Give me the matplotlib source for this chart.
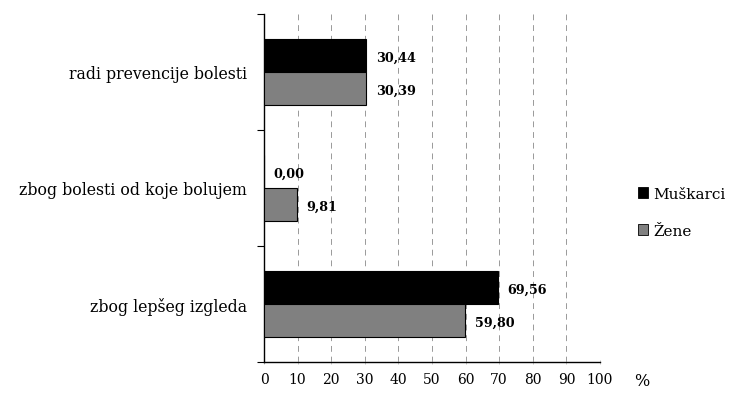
import matplotlib.pyplot as plt
import numpy as np
from matplotlib.patches import Patch

# data
categories = ["radi prevencije bolesti", "zbog bolesti od koje bolujem", "zbog lepšeg izgleda"]
muskarci = [30.44, 0.00, 69.56]
zene = [30.39, 9.81, 59.80]
series_names = ["Muškarci", "Žene"]
xticks = list(range(0, 101, 10))

plt.rcParams['font.family'] = ['DejaVu Serif']

fig = plt.figure(figsize=(7.34, 4.02), dpi=100)
ax = fig.add_axes([0.3597, 0.097, 0.8174 - 0.3597, 0.963 - 0.097])

y = np.arange(len(categories))
h = 0.285
ax.barh(y - h / 2, muskarci, height=h, color='black', edgecolor='black', lw=0.8, zorder=3)
ax.barh(y + h / 2, zene, height=h, color='#808080', edgecolor='black', lw=0.8, zorder=3)

def fmt(v):
    return f"{v:.2f}".replace('.', ',')

for yi, v in zip(y - h / 2, muskarci):
    ax.annotate(fmt(v), (v, yi), xytext=(7, -1.5), textcoords='offset points',
                ha='left', va='center', fontsize=9.2, fontweight='bold')
for yi, v in zip(y + h / 2, zene):
    ax.annotate(fmt(v), (v, yi), xytext=(7, -1.5), textcoords='offset points',
                ha='left', va='center', fontsize=9.2, fontweight='bold')

ax.set_ylim(len(categories) - 0.5, -0.5)
ax.set_xlim(0, 100)

# category boundaries as ticks, labels at centers
ax.set_yticks(np.arange(-0.5, len(categories), 1.0))
ax.set_yticklabels([])
ax.set_yticks(y, minor=True)
ax.set_yticklabels(categories, minor=True, fontsize=11.3)
ax.tick_params(axis='y', which='major', length=5, width=0.8, direction='out')
ax.tick_params(axis='y', which='minor', length=0, pad=12)

ax.set_xticks(xticks)
ax.set_xticklabels([str(t) for t in xticks], fontsize=10)
ax.tick_params(axis='x', length=3, width=0.6, direction='inout', pad=6, color='#bbbbbb')

ax.grid(axis='x', linestyle=(0, (6, 5)), color='#999999', lw=0.7, zorder=0)
for s in ['top', 'right']:
    ax.spines[s].set_visible(False)
ax.spines['left'].set_linewidth(1.0)
ax.spines['bottom'].set_linewidth(1.0)

fig.text(0.864, 0.052, "%", fontsize=11.5, ha='left', va='center')

handles = [Patch(facecolor='black', edgecolor='black', lw=0.6),
           Patch(facecolor='#808080', edgecolor='black', lw=0.6)]
fig.legend(handles, series_names, loc='center left', bbox_to_anchor=(0.85, 0.47),
           frameon=False, fontsize=11, handlelength=0.7, handleheight=0.7,
           handletextpad=0.3, labelspacing=1.5)

fig.savefig("out.png", dpi=100)
